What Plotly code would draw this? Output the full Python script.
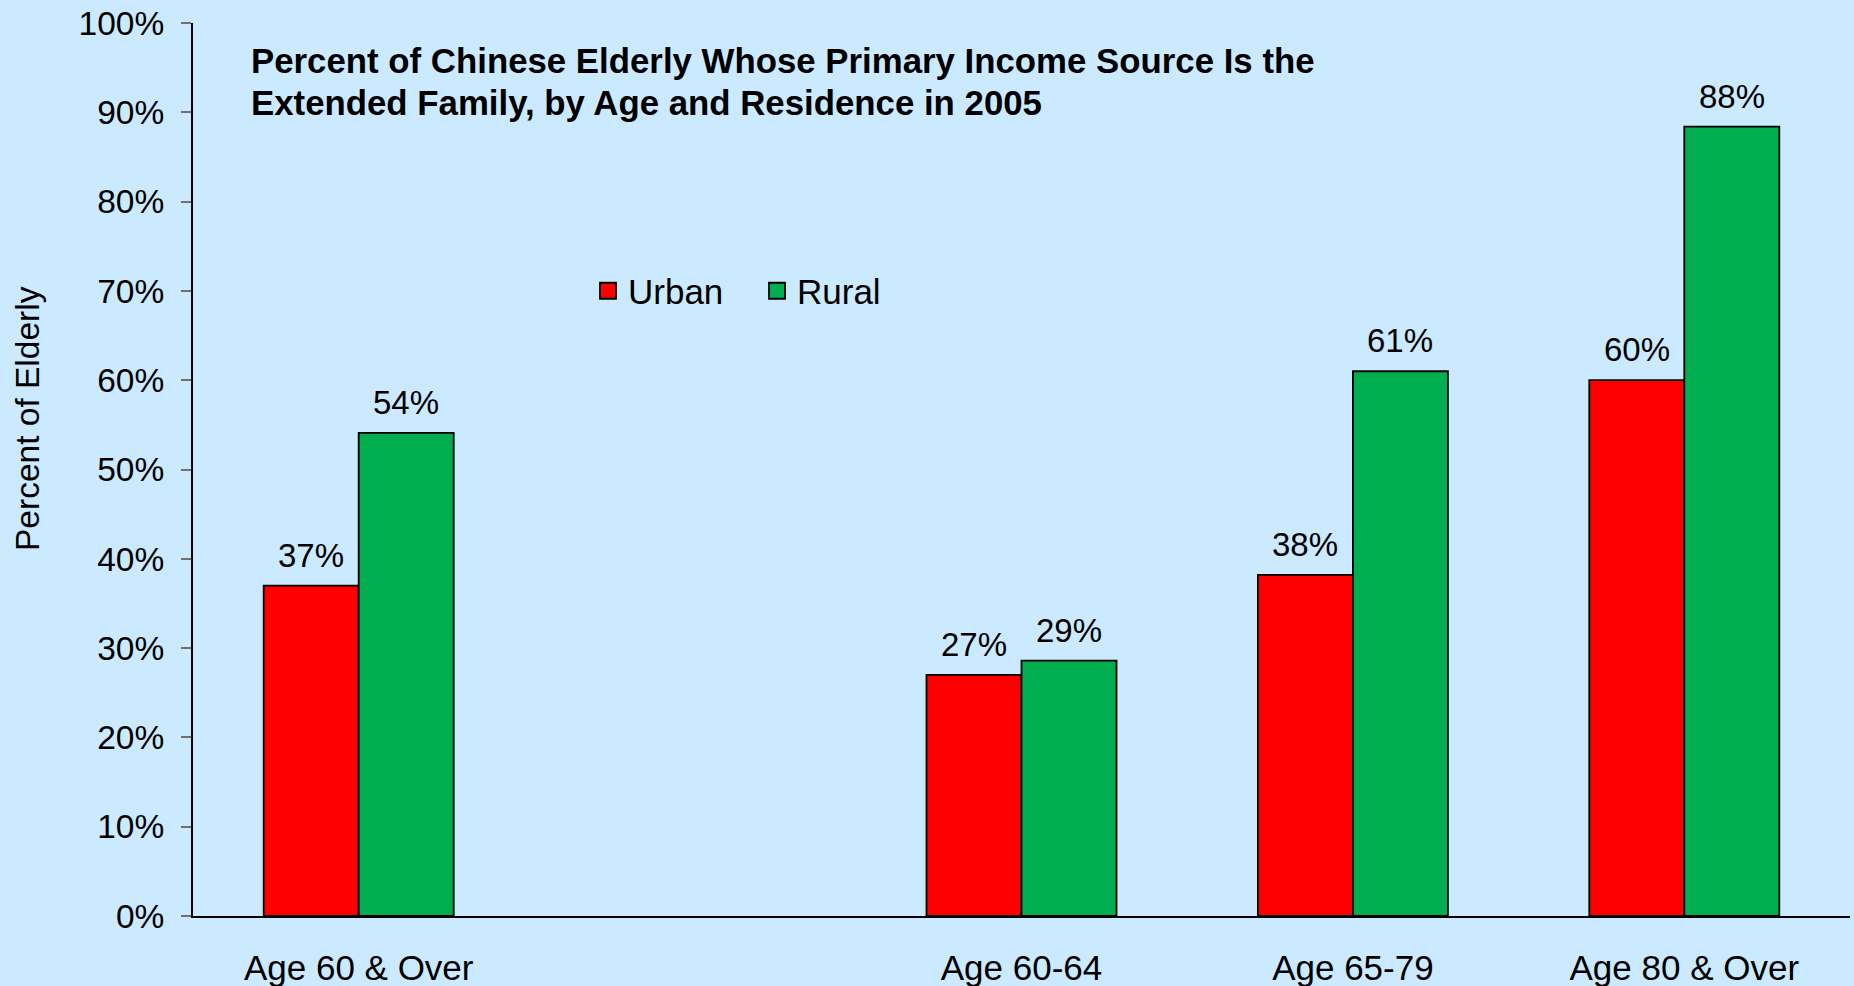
import plotly.graph_objects as go

# Age groups occupy five slots on the x axis; the second slot is left empty
slot_labels = ["Age 60 & Over", "", "Age 60-64", "Age 65-79", "Age 80 & Over"]
groups = ["Age 60 & Over", "Age 60-64", "Age 65-79", "Age 80 & Over"]
group_slots = [0, 2, 3, 4]

urban = [37.0, 27.0, 38.2, 60.0]
rural = [54.1, 28.6, 61.0, 88.4]

y_ticks = [0, 10, 20, 30, 40, 50, 60, 70, 80, 90, 100]
y_tick_text = [f"{v}%" for v in y_ticks]

# bar width in slot units; Urban sits left of the slot centre, Rural right of it
BAR_W = 0.2867

RED = "#FF0000"
GREEN = "#00AE4F"
BG = "#CCEAFF"
FONT = "Liberation Sans, Arial, sans-serif"

W, H = 1854, 986
ML, MR, MT, MB = 193, 4, 23, 70
plot_w = W - ML - MR
plot_h = H - MT - MB


def px_x(p):
    return (p - ML) / plot_w


def px_y(p):
    return (H - MB - p) / plot_h


fig = go.Figure()

for vals, col, off in [(urban, RED, -BAR_W), (rural, GREEN, 0.0)]:
    fig.add_trace(go.Bar(
        x=group_slots, y=vals, width=BAR_W, offset=off,
        marker=dict(color=col, line=dict(color="black", width=1.8)),
        showlegend=False, hoverinfo="y",
    ))

# legend entries with square swatches
for name, col in [("Urban", RED), ("Rural", GREEN)]:
    fig.add_trace(go.Scatter(
        x=[None], y=[None], mode="markers", name=name,
        marker=dict(symbol="square", size=20, color=col,
                    line=dict(color="black", width=1.8)),
    ))

annotations = []
for s, u, r in zip(group_slots, urban, rural):
    for xv, v in [(s - BAR_W / 2, u), (s + BAR_W / 2, r)]:
        annotations.append(dict(
            x=xv, y=v, xref="x", yref="y", text=f"{v:.0f}%",
            showarrow=False, yanchor="bottom", xanchor="center", yshift=10,
            font=dict(size=33, color="black", family=FONT),
        ))

title_lines = [
    ("Percent of Chinese Elderly Whose Primary Income Source Is the", 60),
    ("Extended Family, by Age and Residence in 2005", 103),
]
for line, ypx in title_lines:
    annotations.append(dict(
        x=px_x(249), y=px_y(ypx), xref="paper", yref="paper",
        xanchor="left", yanchor="middle", align="left", showarrow=False,
        text=f"<b>{line}</b>",
        font=dict(size=34.8, color="black", family=FONT),
    ))

annotations.append(dict(
    x=px_x(28), y=px_y(419), xref="paper", yref="paper",
    xanchor="center", yanchor="middle", showarrow=False, textangle=-90,
    text="Percent of Elderly",
    font=dict(size=33.5, color="black", family=FONT),
))

fig.update_layout(
    width=W, height=H,
    margin=dict(l=ML, r=MR, t=MT, b=MB, autoexpand=False),
    paper_bgcolor=BG, plot_bgcolor=BG,
    barmode="overlay",
    font=dict(family=FONT, color="black"),
    annotations=annotations,
    legend=dict(
        orientation="h", x=px_x(588), y=px_y(291), xanchor="left", yanchor="middle",
        font=dict(size=35, family=FONT), bgcolor="rgba(0,0,0,0)",
        itemsizing="trace", entrywidth=124,
    ),
    xaxis=dict(
        range=[-0.5, 4.5], tickvals=list(range(len(slot_labels))), ticktext=slot_labels,
        showline=True, linecolor="black", linewidth=2, ticks="",
        showgrid=False, zeroline=False, fixedrange=True, automargin=False,
        tickfont=dict(size=35, family=FONT), ticklabelstandoff=20,
    ),
    yaxis=dict(
        range=[0, 100], tickvals=y_ticks, ticktext=y_tick_text,
        showline=True, linecolor="black", linewidth=2,
        ticks="outside", ticklen=10, tickwidth=1.5, tickcolor="#707070",
        showgrid=False, zeroline=False, fixedrange=True, automargin=False,
        tickfont=dict(size=33.5, family=FONT), ticklabelstandoff=10,
    ),
)

fig.write_html("out.html")
